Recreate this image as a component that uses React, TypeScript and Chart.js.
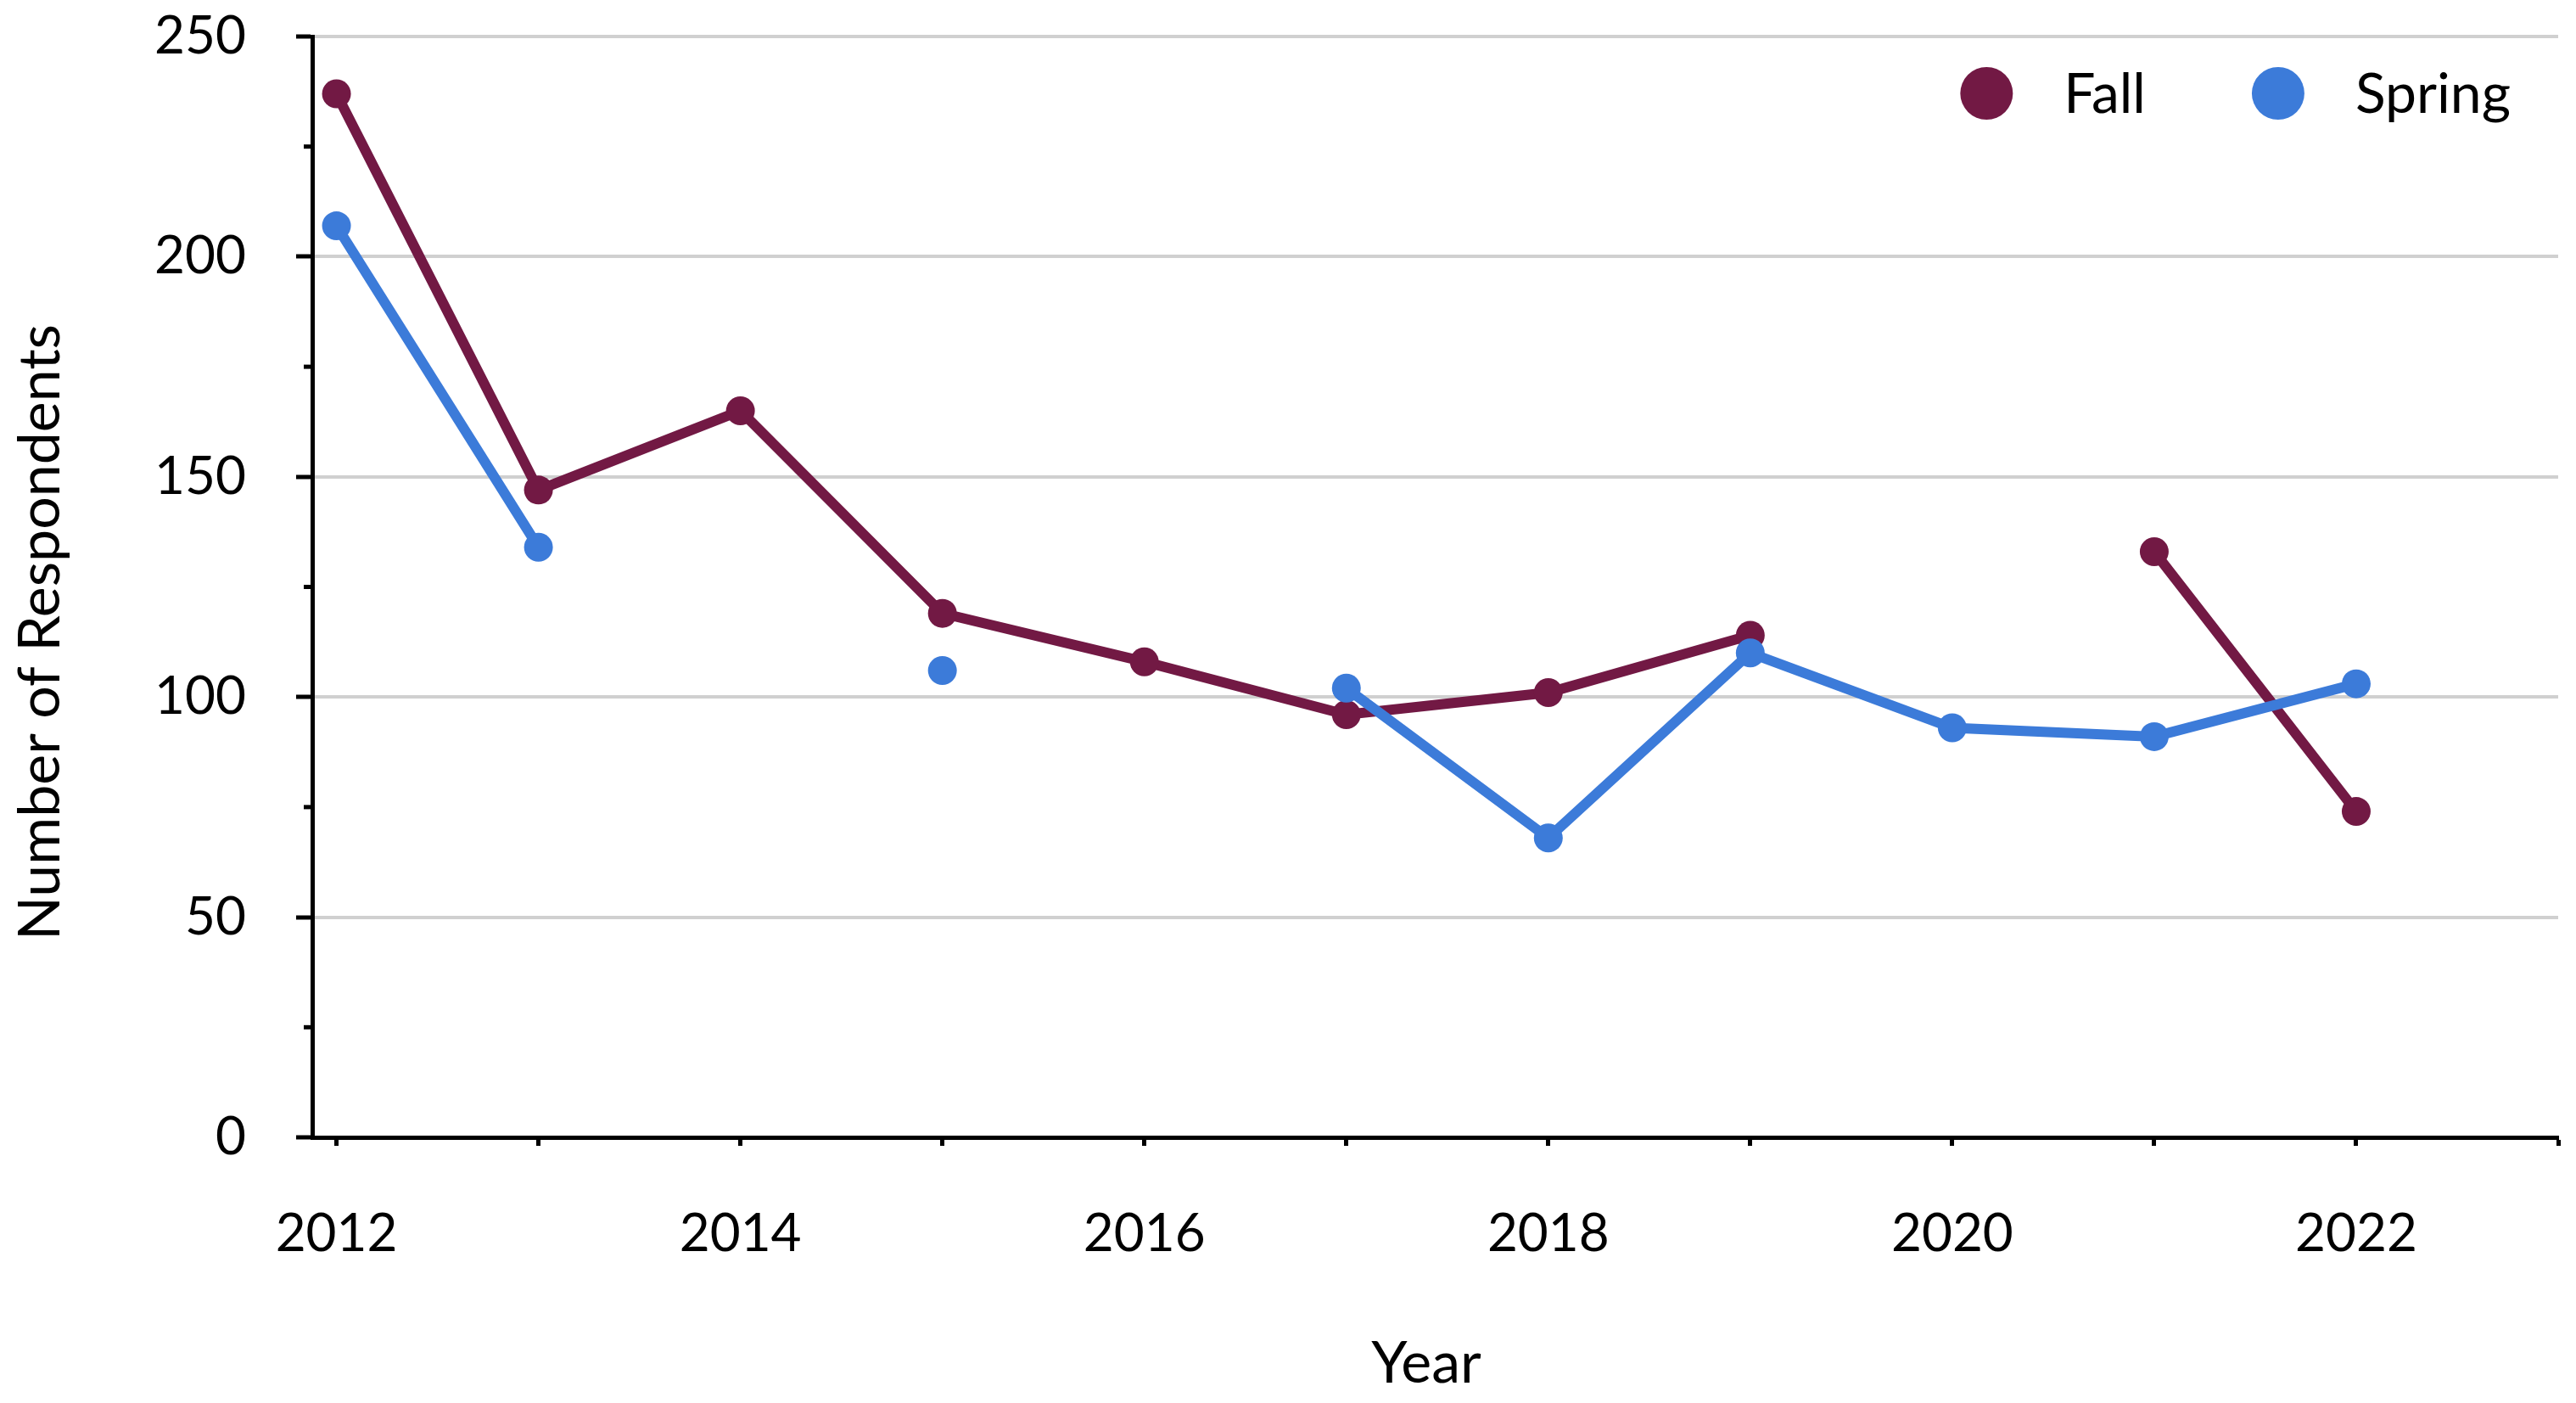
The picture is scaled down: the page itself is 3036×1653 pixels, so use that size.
import React, { useEffect, useRef } from "react";
import { Chart, registerables } from "chart.js";

Chart.register(...registerables);

// ---- data ----
const years = [2012, 2013, 2014, 2015, 2016, 2017, 2018, 2019, 2020, 2021, 2022];
const fallValues: (number | null)[] = [237, 147, 165, 119, 108, 96, 101, 114, null, 133, 74];
const springValues: (number | null)[] = [207, 134, null, 106, null, 102, 68, 110, 93, 91, 103];
const seriesNames = ["Fall", "Spring"];
const xTickYears = [2012, 2013, 2014, 2015, 2016, 2017, 2018, 2019, 2020, 2021, 2022, 2023];
const xLabelYears = [2012, 2014, 2016, 2018, 2020, 2022];
const yMajorTicks = [0, 50, 100, 150, 200, 250];
const yMinorTicks = [25, 75, 125, 175, 225];
const xTitle = "Year";
const yTitle = "Number of Respondents";

const FALL_COLOR = "#721944";
const SPRING_COLOR = "#3C7BD9";
const FONT = "Lato";
const FONT_SIZE = 62;
const TITLE_SIZE = 68;
const LEGEND_SIZE = 66;

const zeroPadding = (s: any) => {
  s.paddingTop = 0;
  s.paddingBottom = 0;
  s.paddingLeft = 0;
  s.paddingRight = 0;
};

const decorPlugin = {
  id: "decor",
  afterDraw(chart: any) {
    const { ctx, chartArea, scales } = chart;
    const y = scales.y;
    ctx.save();
    // minor y ticks
    ctx.strokeStyle = "#000";
    ctx.lineWidth = 5;
    for (const v of yMinorTicks) {
      const py = y.getPixelForValue(v);
      ctx.beginPath();
      ctx.moveTo(chartArea.left, py);
      ctx.lineTo(chartArea.left - 10, py);
      ctx.stroke();
    }
    // axis titles
    ctx.fillStyle = "#000";
    ctx.font = `${TITLE_SIZE}px ${FONT}`;
    ctx.textAlign = "center";
    ctx.textBaseline = "middle";
    ctx.fillText(xTitle, chartArea.left + 1313, chartArea.bottom + 267);
    ctx.save();
    ctx.translate(chartArea.left - 320, chartArea.top + 702);
    ctx.rotate(-Math.PI / 2);
    ctx.fillText(yTitle, 0, 0);
    ctx.restore();
    // legend (top-right, inside the plot area)
    ctx.font = `${LEGEND_SIZE}px ${FONT}`;
    ctx.textBaseline = "middle";
    ctx.textAlign = "left";
    const cy = chartArea.top + 67;
    let x = chartArea.right - 56;
    const ds = chart.data.datasets.slice().sort((a: any, b: any) => a.legendIndex - b.legendIndex);
    for (let i = ds.length - 1; i >= 0; i--) {
      const d = ds[i];
      const w = ctx.measureText(d.label).width;
      const textLeft = x - w;
      const cx = textLeft - 91;
      ctx.fillStyle = d.borderColor;
      ctx.beginPath();
      ctx.arc(cx, cy, 31, 0, Math.PI * 2);
      ctx.fill();
      ctx.fillStyle = "#000";
      ctx.fillText(d.label, textLeft, cy + 2);
      x = cx - 156;
    }
    ctx.restore();
  },
};

export default function App() {
  const canvasRef = useRef<HTMLCanvasElement | null>(null);

  useEffect(() => {
    document.body.style.margin = "0";
    const canvas = canvasRef.current;
    if (!canvas) return;
    const toPts = (vals: (number | null)[]) => years.map((yr, i) => ({ x: yr, y: vals[i] }));
    const chart = new Chart(canvas, {
      type: "line",
      data: {
        datasets: [
          {
            label: seriesNames[0],
            data: toPts(fallValues) as any,
            borderColor: FALL_COLOR,
            backgroundColor: FALL_COLOR,
            borderWidth: 12,
            pointRadius: 17,
            pointBorderWidth: 0,
            pointBackgroundColor: FALL_COLOR,
            spanGaps: false,
            order: 2,
            legendIndex: 0,
          } as any,
          {
            label: seriesNames[1],
            data: toPts(springValues) as any,
            borderColor: SPRING_COLOR,
            backgroundColor: SPRING_COLOR,
            borderWidth: 12,
            pointRadius: 17,
            pointBorderWidth: 0,
            pointBackgroundColor: SPRING_COLOR,
            spanGaps: false,
            order: 1,
            legendIndex: 1,
          } as any,
        ],
      },
      options: {
        responsive: false,
        devicePixelRatio: 1,
        animation: false,
        layout: { autoPadding: false, padding: { top: 43, right: 21, left: 0, bottom: 0 } },
        plugins: {
          legend: { display: false },
          tooltip: { enabled: false },
        },
        scales: {
          x: {
            type: "linear",
            min: 2011.88,
            max: 2023,
            afterFit: (s: any) => {
              s.height = 313;
              zeroPadding(s);
            },
            afterBuildTicks: (s: any) => {
              s.ticks = xTickYears.map((v) => ({ value: v }));
            },
            ticks: {
              autoSkip: false,
              maxRotation: 0,
              padding: 67,
              color: "#000",
              font: { family: FONT, size: FONT_SIZE },
              callback: (v: any) => (xLabelYears.includes(Number(v)) ? String(v) : ""),
            },
            grid: {
              drawOnChartArea: false,
              drawTicks: true,
              tickLength: 10,
              tickColor: "#000",
              tickWidth: 5,
            },
            border: { display: true, color: "#000", width: 5 },
            title: { display: false },
          },
          y: {
            type: "linear",
            min: 0,
            max: 250,
            afterFit: (s: any) => {
              s.width = 368;
              zeroPadding(s);
            },
            afterBuildTicks: (s: any) => {
              s.ticks = yMajorTicks.map((v) => ({ value: v }));
            },
            ticks: {
              padding: 59,
              color: "#000",
              font: { family: FONT, size: FONT_SIZE },
            },
            grid: {
              color: "#d0d0d0",
              lineWidth: 4,
              drawTicks: true,
              tickLength: 19,
              tickColor: "#000",
              tickWidth: 5,
            },
            border: { display: true, color: "#000", width: 5 },
            title: { display: false },
          },
        },
      } as any,
      plugins: [decorPlugin],
    });
    return () => chart.destroy();
  }, []);

  return (
    <div style={{ position: "absolute", left: 0, top: 0, width: 3036, height: 1653, background: "#fff" }}>
      <canvas ref={canvasRef} width={3036} height={1653} style={{ width: 3036, height: 1653, display: "block" }} />
    </div>
  );
}
